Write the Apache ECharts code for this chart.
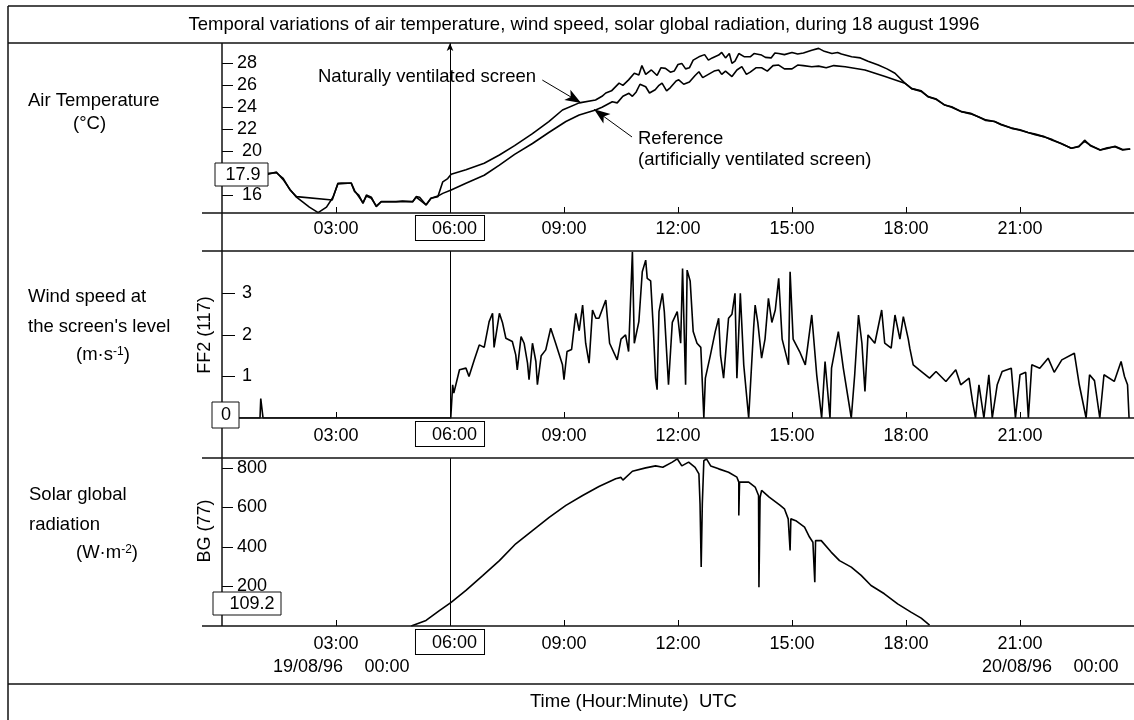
<!DOCTYPE html>
<html>
<head>
<meta charset="utf-8">
<title>Air temperature, wind speed, solar radiation - 18 August 1996</title>
<script src="https://cdn.jsdelivr.net/npm/echarts@6/dist/echarts.min.js"></script>
<style>
  html, body { margin: 0; padding: 0; background: #fff; }
  #chart { width: 1134px; height: 720px; }
</style>
</head>
<body>
<div id="chart"></div>
<script>
// ---- data (hours UTC, values) ----
var hourTicks = [3, 6, 9, 12, 15, 18, 21];
var tempTicks = [16, 20, 22, 24, 26, 28];
var windTicks = [1, 2, 3];
var solarTicks = [200, 400, 600, 800];
var cursorHour = 6;
var cursorValues = ['17.9', '0', '109.2'];

var naturalHours = [0, 0.6, 1.22, 1.43, 1.61, 1.79, 1.96, 2.9, 3.05, 3.14, 3.4, 3.49, 3.6, 3.71, 3.8, 3.93,
  4.06, 4.19, 4.58, 4.75, 5.02, 5.11, 5.2, 5.37, 5.5, 5.68, 5.81, 5.94, 6.03, 6.42, 6.9, 7.3, 7.7, 8.17,
  8.6, 8.96, 9.4, 9.83, 10.0, 10.1, 10.25, 10.45, 10.55, 10.7, 10.85, 10.97, 11.05, 11.15, 11.3, 11.45,
  11.55, 11.67, 11.8, 11.9, 12.0, 12.1, 12.2, 12.3, 12.4, 12.55, 12.7, 12.8, 12.9, 13.07, 13.15, 13.25,
  13.35, 13.42, 13.5, 13.6, 13.75, 13.9, 14.0, 14.2, 14.3, 14.45, 14.55, 14.65, 14.8, 15.0, 15.15, 15.3,
  15.52, 15.7, 15.85, 16.05, 16.2, 16.3, 16.57, 16.8, 17.0, 17.27, 17.5, 17.71, 17.97, 18.15, 18.4, 18.58,
  18.8, 19.02, 19.2, 19.46, 19.7, 19.9, 20.1, 20.33, 20.5, 20.77, 21.0, 21.21, 21.4, 21.65, 21.85, 22.08,
  22.35, 22.55, 22.7, 22.85, 23.11, 23.3, 23.5, 23.7, 23.9];
var naturalTemp = [18.0, 18.1, 17.98, 18.03, 17.52, 16.46, 15.85, 15.55, 17.07, 17.1, 17.07, 16.3, 16.0, 15.24, 16.0, 15.8,
  14.93, 15.39, 15.39, 15.45, 15.39, 15.85, 15.8, 15.09, 15.7, 15.85, 17.2, 17.5, 17.9, 18.3, 18.9, 19.65, 20.5, 21.6,
  22.7, 23.75, 24.4, 24.66, 25.0, 25.3, 25.5, 26.2, 26.0, 26.5, 27.1, 26.94, 27.8, 27.0, 27.4, 26.9,
  27.6, 27.55, 27.2, 27.3, 27.9, 28.0, 27.5, 27.6, 28.3, 28.6, 28.8, 28.3, 28.5, 28.76, 29.0, 28.5,
  28.9, 28.0, 28.2, 28.9, 28.6, 28.6, 28.9, 28.76, 28.55, 28.5, 28.95, 28.9, 28.8, 29.0, 28.85, 28.95,
  29.2, 29.37, 29.1, 28.9, 29.0, 28.85, 28.6, 28.5, 28.2, 27.85, 27.5, 27.1, 26.2, 25.7, 25.5, 24.97,
  24.7, 24.2, 24.05, 23.6, 23.4, 23.14, 22.8, 22.7, 22.4, 22.1, 21.95, 21.7, 21.5, 21.3, 21.0, 20.7,
  20.26, 20.4, 21.0, 20.5, 20.1, 20.3, 20.4, 20.1, 20.2];

var referenceHours = [0, 0.6, 1.22, 1.43, 1.61, 1.79, 1.96, 2.3, 2.53, 2.75, 2.92, 3.05, 3.4, 3.49, 3.71, 3.8,
  3.93, 4.06, 4.19, 4.58, 5.02, 5.11, 5.37, 5.5, 5.68, 5.81, 6.03, 6.42, 6.9, 7.3, 7.7, 8.17, 8.6, 9.05, 9.4,
  9.83, 10.0, 10.27, 10.4, 10.55, 10.71, 10.8, 10.9, 11.0, 11.15, 11.25, 11.4, 11.5, 11.58, 11.7, 11.8,
  11.95, 12.02, 12.15, 12.3, 12.45, 12.55, 12.65, 12.8, 12.95, 13.07, 13.15, 13.25, 13.42, 13.55, 13.68,
  13.8, 13.9, 14.05, 14.2, 14.35, 14.5, 14.65, 14.8, 15.0, 15.15, 15.3, 15.52, 15.7, 15.9, 16.1, 16.4,
  16.92, 17.45, 17.97, 18.15, 18.4, 18.58, 18.8, 19.02, 19.2, 19.46, 19.7, 19.9, 20.1, 20.33, 20.5, 20.77,
  21.0, 21.21, 21.4, 21.65, 21.85, 22.08, 22.35, 22.55, 22.7, 22.85, 23.11, 23.3, 23.5, 23.7, 23.9];
var referenceTemp = [18.0, 18.1, 17.9, 18.1, 17.4, 16.5, 15.8, 14.9, 14.4, 14.9, 15.8, 17.0, 17.1, 16.4, 15.3, 15.9,
  15.7, 15.0, 15.4, 15.4, 15.4, 15.8, 15.1, 15.7, 15.9, 16.15, 16.46, 17.07, 17.8, 18.73, 19.7, 20.7, 21.7, 22.7, 23.3,
  23.75, 24.0, 24.5, 24.4, 25.0, 25.27, 25.0, 25.4, 26.1, 25.87, 25.3, 25.6, 26.0, 26.2, 25.5, 25.8,
  26.4, 26.5, 26.1, 26.3, 26.9, 27.24, 26.7, 27.0, 27.3, 27.4, 27.0, 27.3, 26.8, 27.4, 27.7,
  27.0, 27.2, 27.6, 27.6, 27.3, 27.8, 27.85, 27.5, 27.5, 27.85, 27.8, 27.7, 27.75, 27.6, 27.8, 27.7,
  27.4, 26.8, 26.2, 25.7, 25.45, 24.97, 24.75, 24.2, 24.0, 23.6, 23.45, 23.14, 22.85, 22.7, 22.45, 22.1,
  21.9, 21.7, 21.55, 21.3, 21.05, 20.7, 20.26, 20.45, 20.9, 20.55, 20.1, 20.25, 20.45, 20.15, 20.2];

var windHours = [0, 1.0, 1.02, 1.06, 1.08, 6.02, 6.07, 6.1, 6.25, 6.42, 6.5, 6.64, 6.77, 6.9, 7.03, 7.12, 7.16,
  7.3, 7.38, 7.47, 7.64, 7.73, 7.77, 7.87, 7.95, 8.04, 8.08, 8.17, 8.26, 8.3, 8.4, 8.52, 8.65, 8.78, 8.96, 9.0,
  9.08, 9.2, 9.31, 9.4, 9.49, 9.57, 9.66, 9.75, 9.84, 9.92, 10.1, 10.2, 10.4, 10.5, 10.62, 10.7, 10.8, 10.85,
  10.97, 11.06, 11.15, 11.19, 11.28, 11.35, 11.41, 11.45, 11.5, 11.59, 11.64, 11.75, 11.85, 11.98, 12.07,
  12.12, 12.2, 12.24, 12.32, 12.4, 12.5, 12.6, 12.68, 12.72, 12.85, 12.98, 13.07, 13.12, 13.2, 13.33, 13.42,
  13.5, 13.55, 13.64, 13.73, 13.86, 13.99, 14.03, 14.1, 14.2, 14.29, 14.38, 14.47, 14.56, 14.65, 14.74,
  14.91, 14.95, 15.03, 15.2, 15.35, 15.52, 15.65, 15.78, 15.87, 16.0, 16.04, 16.22, 16.35, 16.56, 16.65,
  16.75, 16.84, 16.92, 17.0, 17.18, 17.36, 17.44, 17.61, 17.71, 17.84, 17.93, 18.06, 18.1, 18.19, 18.35,
  18.62, 18.79, 19.05, 19.31, 19.44, 19.66, 19.75, 19.83, 19.92, 20.05, 20.18, 20.27, 20.4, 20.53, 20.77,
  20.88, 21.0, 21.15, 21.22, 21.31, 21.52, 21.74, 21.9, 22.1, 22.43, 22.56, 22.74, 22.83, 22.96, 23.1,
  23.21, 23.48, 23.66, 23.75, 23.83, 23.87];
var windSpeed = [0, 0, 0.47, 0.47, 0, 0, 0.8, 0.6, 1.16, 1.2, 1.0, 1.4, 1.76, 1.7, 2.32, 2.52, 1.7,
  2.52, 2.3, 1.92, 1.84, 1.52, 1.16, 1.96, 1.8, 1.32, 0.92, 1.8, 1.36, 0.8, 1.5, 1.64, 2.16, 1.8, 1.28, 0.92,
  1.6, 1.65, 2.52, 2.1, 2.72, 1.8, 1.32, 2.6, 2.4, 2.4, 2.84, 1.8, 1.4, 1.9, 2.0, 1.6, 4.0, 1.8,
  2.32, 3.52, 3.8, 3.36, 3.3, 2.16, 0.96, 0.68, 2.56, 3.0, 2.56, 0.8, 2.3, 2.56, 1.8,
  3.6, 0.8, 3.56, 3.3, 2.08, 1.8, 1.7, 0, 0.96, 1.5, 2.08, 2.4, 1.5, 0.96, 2.4, 2.5,
  3.0, 0.96, 3.0, 1.28, 0, 2.16, 2.72, 2.3, 1.44, 1.9, 2.88, 2.3, 2.6, 3.36, 1.9,
  1.28, 3.52, 1.9, 1.6, 1.28, 2.48, 1.04, 0, 1.36, 0, 1.2, 2.08, 1.2, 0, 1.04,
  2.48, 1.8, 0.64, 2.0, 1.8, 2.6, 1.8, 1.68, 2.48, 1.9, 2.44, 1.9, 1.68, 1.28, 1.16,
  0.96, 1.12, 0.88, 1.16, 0.8, 0.96, 0.4, 0, 0.8, 0, 1.04, 0, 0.8, 1.12, 1.2,
  0, 1.04, 1.1, 0, 1.28, 1.2, 1.44, 1.1, 1.4, 1.56, 0.8, 0, 1.04, 0.9, 0,
  1.04, 0.88, 1.36, 1.0, 0.8, 0];

var solarHours = [4.98, 5.37, 5.72, 6.03, 6.42, 6.86, 7.3, 7.73, 8.17, 8.61, 9.05, 9.49, 9.92, 10.36, 10.5,
  10.55, 10.8, 11.15, 11.41, 11.6, 11.85, 11.98, 12.1, 12.28, 12.45, 12.55, 12.58, 12.61, 12.64, 12.68,
  12.75, 12.86, 13.07, 13.33, 13.55, 13.6, 13.6, 13.62, 13.86, 14.03, 14.12, 14.13, 14.16, 14.2, 14.4,
  14.69, 14.8, 14.9, 14.95, 14.97, 15.1, 15.33, 15.46, 15.55, 15.6, 15.62, 15.77, 16.03, 16.25, 16.56,
  16.82, 17.08, 17.43, 17.78, 18.13, 18.4, 18.62];
var solarRadiation = [0, 28, 78, 120, 180, 255, 331, 416, 483, 550, 610, 660, 706, 745, 752,
  738, 783, 800, 810, 803, 829, 846, 810, 829, 803, 770, 618, 298, 618, 836,
  846, 810, 795, 778, 753, 728, 559, 728, 728, 703, 660, 196, 650, 686, 652,
  610, 593, 542, 382, 542, 533, 500, 450, 424, 221, 432, 432, 374, 331, 298,
  256, 205, 163, 112, 70, 40, 5];

(function () {
  var FONT = '"Liberation Sans", Arial, sans-serif';
  var chart = echarts.init(document.getElementById('chart'), null, { renderer: 'canvas' });

  function zip(xs, ys) {
    return xs.map(function (x, i) {
      return [x, ys[i]];
    });
  }

  function pad(value) {
    return String(value).padStart(2, '0');
  }

  // panels: top / height in px, y ranges
  var panels = [
    { top: 43, height: 170, min: 14.36, max: 29.86, ticks: tempTicks, tickLen: 11, margin: 15, xMargin: 3, xPad: 4 },
    { top: 251, height: 167, min: 0, max: 4.02, ticks: windTicks, tickLen: 13, margin: 20, xMargin: 4, xPad: 5 },
    { top: 458, height: 168, min: 0, max: 850, ticks: solarTicks, tickLen: 11, margin: 15, xMargin: 4, xPad: 5 },
  ];

  var grids = [];
  var xAxes = [];
  var yAxes = [];
  panels.forEach(function (p, i) {
    grids.push({ left: 222, top: p.top, width: 914, height: p.height, containLabel: false });
    xAxes.push({
      type: 'value',
      gridIndex: i,
      min: 0,
      max: 24,
      interval: 3,
      axisLine: { show: false },
      splitLine: { show: false },
      axisTick: {
        inside: true,
        length: 6,
        customValues: hourTicks,
        lineStyle: { color: '#000', width: 1 },
      },
      axisLabel: {
        margin: p.xMargin,
        customValues: hourTicks,
        color: '#000',
        fontSize: 18,
        fontFamily: FONT,
        formatter: function (v) {
          var s = pad(v) + ':00';
          return v === cursorHour ? '{box|' + s + '}' : '{lab|' + s + '}';
        },
        rich: {
          lab: { color: '#000', fontSize: 18, fontFamily: FONT, padding: [p.xPad, 0, 0, 0] },
          box: {
            color: '#000',
            fontSize: 18,
            fontFamily: FONT,
            borderColor: '#000',
            borderWidth: 1,
            backgroundColor: '#fff',
            padding: [4, 7, 2, 16],
          },
        },
      },
    });
    yAxes.push({
      type: 'value',
      gridIndex: i,
      min: p.min,
      max: p.max,
      axisLine: { show: false },
      splitLine: { show: false },
      axisTick: {
        inside: true,
        length: p.tickLen,
        customValues: p.ticks,
        lineStyle: { color: '#000', width: 1 },
      },
      axisLabel: {
        inside: true,
        margin: p.margin,
        customValues: p.ticks,
        color: '#000',
        fontSize: 18,
        fontFamily: FONT,
        formatter: function (v) {
          if (i === 0 && (v === 16 || v === 20)) return '{gap|' + v + '}';
          return String(v);
        },
        rich: { gap: { padding: [0, 0, 0, 5], fontSize: 18, fontFamily: FONT, color: '#000' } },
      },
    });
  });

  var cursorLine = {
    silent: true,
    symbol: 'none',
    animation: false,
    label: { show: false },
    lineStyle: { color: '#000', width: 1, type: 'solid' },
    data: [{ xAxis: cursorHour }],
  };

  function lineSeries(name, idx, data, extra) {
    var s = {
      name: name,
      type: 'line',
      xAxisIndex: idx,
      yAxisIndex: idx,
      data: data,
      showSymbol: false,
      symbol: 'none',
      animation: false,
      lineStyle: { color: '#000', width: 1.6 },
    };
    if (extra) s.markLine = extra;
    return s;
  }

  var annotationArrows = {
    silent: true,
    animation: false,
    label: { show: false },
    lineStyle: { color: '#000', width: 1, type: 'solid' },
    data: [
      [
        { coord: [cursorHour, panels[0].min], symbol: 'none' },
        { coord: [cursorHour, panels[0].max], symbol: 'arrow', symbolSize: [5, 8] },
      ],
      [
        { coord: [8.43, 26.48], symbol: 'none' },
        { coord: [9.45, 24.39], symbol: 'arrow', symbolSize: [9, 16] },
      ],
      [
        { coord: [10.79, 21.29], symbol: 'none' },
        { coord: [9.79, 23.81], symbol: 'arrow', symbolSize: [9, 16] },
      ],
    ],
  };

  // ---- frame, boxes and texts ----
  var elements = [];
  function hline(x1, x2, y) {
    elements.push({
      type: 'line', silent: true, z: 50,
      shape: { x1: x1, y1: y, x2: x2, y2: y },
      style: { stroke: '#111', lineWidth: 1.5 },
    });
  }
  function vline(x, y1, y2) {
    elements.push({
      type: 'line', silent: true, z: 50,
      shape: { x1: x, y1: y1, x2: x, y2: y2 },
      style: { stroke: '#111', lineWidth: 1.5 },
    });
  }
  function text(str, x, y, align, extra) {
    var style = {
      text: str, x: x, y: y, fill: '#000',
      fontSize: 18.5, fontFamily: FONT,
      align: align || 'left', verticalAlign: 'middle',
      textAlign: align || 'left', textVerticalAlign: 'middle',
    };
    if (extra) Object.keys(extra).forEach(function (k) { style[k] = extra[k]; });
    elements.push({ type: 'text', silent: true, z: 120, style: style });
    return elements[elements.length - 1];
  }
  function box(x, y, w, h, label, tx, ty) {
    elements.push({
      type: 'rect', silent: true, z: 110,
      shape: { x: x, y: y, width: w, height: h },
      style: { fill: '#fff', stroke: '#111', lineWidth: 1 },
    });
    text(label, tx, ty, 'center', { fontSize: 18 });
  }

  vline(8, 6, 720);
  hline(8, 1134, 6);
  hline(8, 1134, 43);
  hline(8, 1134, 684);
  hline(202, 1134, 213);
  hline(202, 1134, 251);
  hline(212, 1134, 418);
  hline(202, 1134, 458);
  hline(202, 1134, 626);
  vline(222, 43, 626);

  box(215, 163, 53, 23, cursorValues[0], 243, 175);
  box(212, 402, 27, 26, cursorValues[1], 226, 415);
  box(213, 592, 68, 23, cursorValues[2], 252, 604);

  text('Temporal variations of air temperature, wind speed, solar global radiation, during 18 august 1996', 584, 25, 'center');
  text('Time (Hour:Minute)  UTC', 530, 702);

  var sup = { sup: { fontSize: 12, fontFamily: FONT, fill: '#000', verticalAlign: 'top' } };
  text('Air Temperature', 28, 101);
  text('(°C)', 73, 124);
  text('Wind speed at', 28, 297);
  text("the screen's level", 28, 327);
  text('(m·s{sup|-1})', 76, 355, 'left', { rich: sup });
  text('Solar global', 29, 495);
  text('radiation', 29, 525);
  text('(W·m{sup|-2})', 76, 553, 'left', { rich: sup });

  var ff = text('FF2 (117)', 0, 0, 'center', { fontSize: 18 });
  ff.x = 205; ff.y = 335; ff.rotation = Math.PI / 2;
  var bg = text('BG (77)', 0, 0, 'center', { fontSize: 18 });
  bg.x = 205; bg.y = 531; bg.rotation = Math.PI / 2;

  text('Naturally ventilated screen', 318, 77);
  text('Reference', 638, 139);
  text('(artificially ventilated screen)', 638, 160);

  text('19/08/96', 308, 667, 'center', { fontSize: 18 });
  text('00:00', 387, 667, 'center', { fontSize: 18 });
  text('20/08/96', 1017, 667, 'center', { fontSize: 18 });
  text('00:00', 1096, 667, 'center', { fontSize: 18 });

  var option = {
    animation: false,
    backgroundColor: '#fff',
    grid: grids,
    xAxis: xAxes,
    yAxis: yAxes,
    series: [
      lineSeries('Reference (artificially ventilated screen)', 0, zip(referenceHours, referenceTemp)),
      lineSeries('Naturally ventilated screen', 0, zip(naturalHours, naturalTemp), annotationArrows),
      lineSeries('FF2 (117)', 1, zip(windHours, windSpeed), cursorLine),
      lineSeries('BG (77)', 2, zip(solarHours, solarRadiation), cursorLine),
    ],
    graphic: { elements: elements },
  };

  chart.setOption(option);
})();
</script>
</body>
</html>
